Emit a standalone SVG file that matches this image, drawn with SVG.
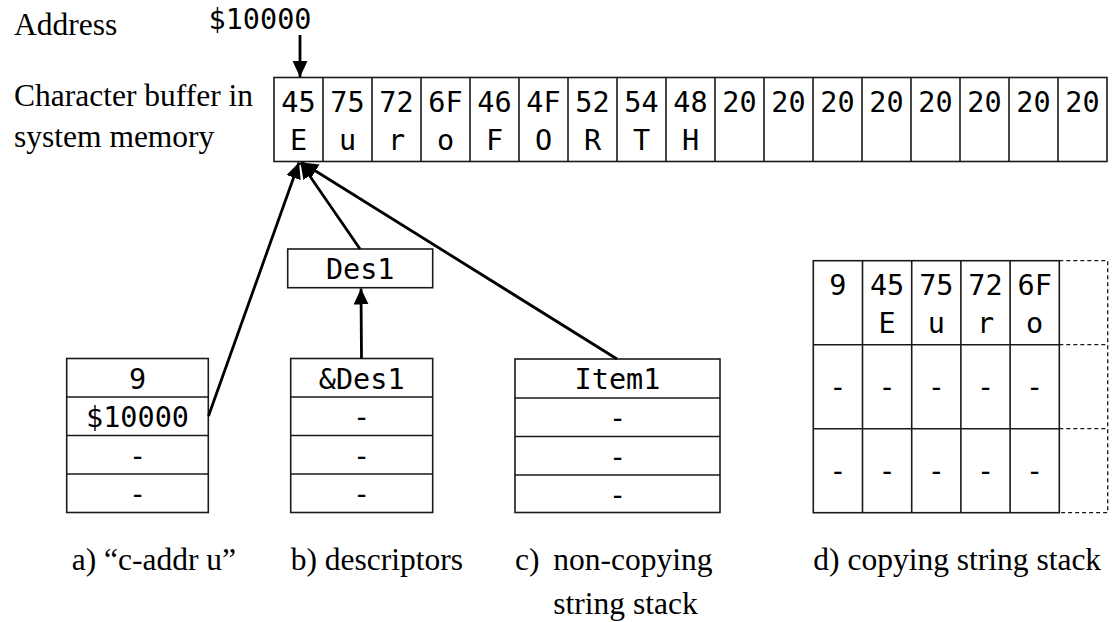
<svg xmlns="http://www.w3.org/2000/svg" width="1113" height="622" viewBox="0 0 1113 622">
<style>
.serif{font-family:"Liberation Serif","Times New Roman",serif;font-size:31.5px;fill:#000}
.mono{font-family:"DejaVu Sans Mono","Liberation Mono",monospace;font-size:28.5px;fill:#000;text-anchor:middle}
.box{fill:#fff;stroke:#1a1a1a;stroke-width:1.6}
.ln{fill:none;stroke:#1a1a1a;stroke-width:1.6}
.dash{fill:none;stroke:#1a1a1a;stroke-width:1.3;stroke-dasharray:4 3}
.conn{fill:none;stroke:#000;stroke-width:2.8}
</style>
<defs>
<marker id="ah" markerUnits="userSpaceOnUse" markerWidth="18" markerHeight="16" refX="16" refY="7.5" orient="auto">
<path d="M0,0 L16,7.5 L0,15 z" fill="#000"/>
</marker>
</defs>
<rect width="1113" height="622" fill="#fff"/>

<g id="labels">
<text class="serif" x="14" y="35">Address</text>
<text class="serif" x="14" y="106">Character buffer in</text>
<text class="serif" x="14" y="147">system memory</text>
<text class="mono" x="260" y="29">$10000</text>
<text class="serif" x="71.7" y="570">a) “c-addr u”</text>
<text class="serif" x="290.7" y="570">b) descriptors</text>
<text class="serif" x="515" y="570">c)</text>
<text class="serif" x="553.3" y="570">non-copying</text>
<text class="serif" x="553.3" y="614">string stack</text>
<text class="serif" x="813.3" y="570">d) copying string stack</text>
</g>

<g id="buffer">
<rect class="box" x="274" y="77.5" width="833" height="84"/>
<path class="ln" d="M323,77.5V161.5M372,77.5V161.5M421,77.5V161.5M470,77.5V161.5M519,77.5V161.5M568,77.5V161.5M617,77.5V161.5M666,77.5V161.5M715,77.5V161.5M764,77.5V161.5M813,77.5V161.5M862,77.5V161.5M911,77.5V161.5M960,77.5V161.5M1009,77.5V161.5M1058,77.5V161.5"/>
<g class="mono">
<text x="298.5" y="111.7">45</text><text x="347.5" y="111.7">75</text><text x="396.5" y="111.7">72</text><text x="445.5" y="111.7">6F</text><text x="494.5" y="111.7">46</text><text x="543.5" y="111.7">4F</text><text x="592.5" y="111.7">52</text><text x="641.5" y="111.7">54</text><text x="690.5" y="111.7">48</text><text x="739.5" y="111.7">20</text><text x="788.5" y="111.7">20</text><text x="837.5" y="111.7">20</text><text x="886.5" y="111.7">20</text><text x="935.5" y="111.7">20</text><text x="984.5" y="111.7">20</text><text x="1033.5" y="111.7">20</text><text x="1082.5" y="111.7">20</text>
<text x="298.5" y="150">E</text><text x="347.5" y="150">u</text><text x="396.5" y="150">r</text><text x="445.5" y="150">o</text><text x="494.5" y="150">F</text><text x="543.5" y="150">O</text><text x="592.5" y="150">R</text><text x="641.5" y="150">T</text><text x="690.5" y="150">H</text>
</g>
</g>

<g id="des1">
<rect class="box" x="287.7" y="249" width="145" height="38.7"/>
<text class="mono" x="360.2" y="279.3">Des1</text>
</g>

<g id="stack-a">
<rect class="box" x="66.7" y="358.5" width="141.6" height="154"/>
<path class="ln" d="M66.7,397H208.3M66.7,435.5H208.3M66.7,474H208.3"/>
<text class="mono" x="137.5" y="388.5">9</text>
<text class="mono" x="137.5" y="427">$10000</text>
<text class="mono" x="137.5" y="465.5">-</text>
<text class="mono" x="137.5" y="504">-</text>
</g>

<g id="stack-b">
<rect class="box" x="290.7" y="358.5" width="142" height="154"/>
<path class="ln" d="M290.7,397H432.7M290.7,435.5H432.7M290.7,474H432.7"/>
<text class="mono" x="361.7" y="388.5">&amp;Des1</text>
<text class="mono" x="361.7" y="427">-</text>
<text class="mono" x="361.7" y="465.5">-</text>
<text class="mono" x="361.7" y="504">-</text>
</g>

<g id="stack-c">
<rect class="box" x="515" y="359" width="205" height="153.5"/>
<path class="ln" d="M515,398H720M515,436.5H720M515,475H720"/>
<text class="mono" x="617.5" y="389.3">Item1</text>
<text class="mono" x="617.5" y="428">-</text>
<text class="mono" x="617.5" y="466.5">-</text>
<text class="mono" x="617.5" y="505">-</text>
</g>

<g id="stack-d">
<rect class="box" x="813.3" y="260.7" width="246" height="252"/>
<path class="ln" d="M862.5,260.7V512.7M911.7,260.7V512.7M960.9,260.7V512.7M1010.1,260.7V512.7M813.3,344.7H1059.3M813.3,428.7H1059.3"/>
<path class="dash" d="M1059.3,260.7H1107.7V512.7H1059.3M1059.3,344.7H1107.7M1059.3,428.7H1107.7"/>
<g class="mono">
<text x="837.9" y="294.7">9</text><text x="887.1" y="294.7">45</text><text x="936.3" y="294.7">75</text><text x="985.5" y="294.7">72</text><text x="1034.7" y="294.7">6F</text>
<text x="887.1" y="333.2">E</text><text x="936.3" y="333.2">u</text><text x="985.5" y="333.2">r</text><text x="1034.7" y="333.2">o</text>
<text x="837.9" y="396.6">-</text><text x="887.1" y="396.6">-</text><text x="936.3" y="396.6">-</text><text x="985.5" y="396.6">-</text><text x="1034.7" y="396.6">-</text>
<text x="837.9" y="481">-</text><text x="887.1" y="481">-</text><text x="936.3" y="481">-</text><text x="985.5" y="481">-</text><text x="1034.7" y="481">-</text>
</g>
</g>

<g id="connectors">
<line class="conn" x1="300" y1="35" x2="300" y2="77" marker-end="url(#ah)"/>
<line class="conn" x1="208.5" y1="416" x2="299" y2="162.5" marker-end="url(#ah)"/>
<line class="conn" x1="360" y1="249" x2="300.5" y2="162.5" marker-end="url(#ah)"/>
<line class="conn" x1="617" y1="359" x2="302" y2="162.5" marker-end="url(#ah)"/>
<line class="conn" x1="361.5" y1="358.5" x2="361" y2="288.5" marker-end="url(#ah)"/>
</g>
</svg>
